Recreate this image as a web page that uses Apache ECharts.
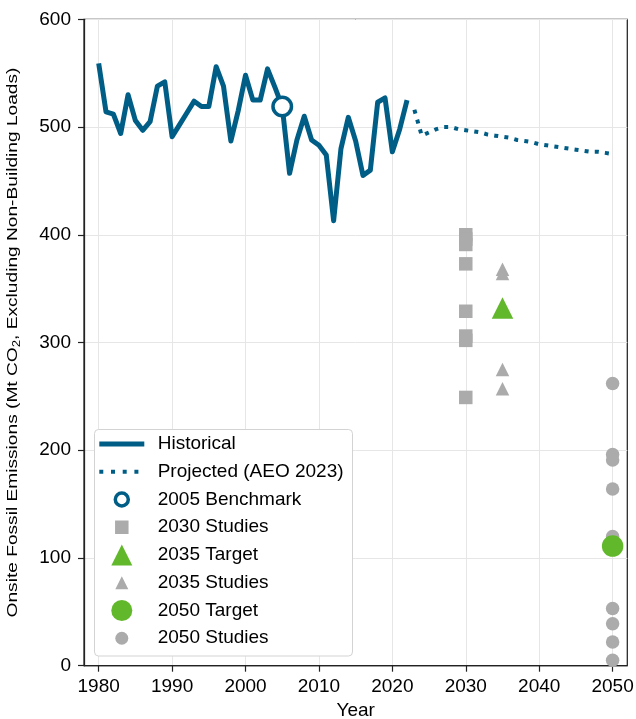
<!DOCTYPE html>
<html><head><meta charset="utf-8">
<script src="https://cdn.jsdelivr.net/npm/echarts@6/dist/echarts.min.js"></script>
<style>html,body{margin:0;padding:0;background:#fff}#c{width:636px;height:719px}</style>
</head><body><div id="c"></div>
<script>
// ---- data ----
const histYears = [1980,1981,1982,1983,1984,1985,1986,1987,1988,1989,1990,1991,1992,1993,1994,1995,1996,1997,1998,1999,2000,2001,2002,2003,2004,2005,2006,2007,2008,2009,2010,2011,2012,2013,2014,2015,2016,2017,2018,2019,2020,2021,2022];
const histValues = [559,514,512,494,530,506,497,505,538,542,491,502,513,524,519,519,556,538,487,515,548,525,525,554,537,519,457,488,510,488,483,474,413,480,509,487,455,460,523,527,477,498,525];
const projYears = [2023,2024,2025,2026,2027,2028,2029,2030,2031,2032,2033,2034,2035,2036,2037,2038,2039,2040,2041,2042,2043,2044,2045,2046,2047,2048,2049,2050];
const projValues = [516,492,495,498,500,500,498,497,496,495,493,492,491,490,488,487,486,484,483,482,481,480,479,478,477,477,476,475];
const benchmarkYear = 2005, benchmarkValue = 519;
const studies2030Year = 2030, studies2030 = [400,396,391,373,329,306,302,249];
const target2035Year = 2035, target2035 = 332;
const studies2035Year = 2035, studies2035 = [368,364,275,257];
const target2050Year = 2050, target2050 = 111;
const studies2050Year = 2050, studies2050 = [262,196,191,164,120,53,39,22,5];
const xTicks = [1980,1990,2000,2010,2020,2030,2040,2050];
const yTicks = [0,100,200,300,400,500,600];
const names = ['Historical','Projected (AEO 2023)','2005 Benchmark','2030 Studies','2035 Target','2035 Studies','2050 Target','2050 Studies'];
const yTitle = ['Onsite Fossil Emissions (Mt CO', '2', ', Excluding Non-Building Loads)'];
const xTitle = 'Year';

// ---- styles ----
const FONT = 'Liberation Sans, Arial, Helvetica, sans-serif';
const BLUE = '#005E86', GREEN = '#62B82B', GRAY = '#ABABAB';

const chart = echarts.init(document.getElementById('c'), null, {renderer:'canvas'});
const pairs = (xs, ys) => xs.map((x,i)=>[x, ys[i]]);
const col = (x, ys) => ys.map(v=>[x, v]);

// legend layout (style only)
const legendStyle = [
  {line:true, h:14, stroke:5, lineStyle:{width:5}},
  {line:true, h:14, stroke:4, lineStyle:{width:4, type:[4,7.7]}},
  {h:13, stroke:3.5, itemStyle:{borderWidth:3.5}},
  {h:13.5, stroke:0},
  {h:21, stroke:0},
  {h:13, stroke:0},
  {h:21, stroke:0},
  {h:13, stroke:0}
];
const HANDLE_L = 99.3, HANDLE_W = 45, TEXT_X = 157.7;
const legends = names.map((n,i)=>{
  const s = legendStyle[i];
  const center = 444 + i*27.75;
  let iconL, iw;
  if (s.line) { iconL = HANDLE_L; iw = HANDLE_W; }
  else { iw = s.h; iconL = HANDLE_L + HANDLE_W/2 - s.h/2; }
  const left = iconL - s.stroke/2;           // bounding rect includes half stroke
  const pad = TEXT_X - (iconL + iw + 5);
  const lg = {
    data:[n], orient:'vertical', left:left, top:center-11, padding:0,
    itemWidth:iw, itemHeight:s.h, selectedMode:false,
    textStyle:{fontSize:19, lineHeight:22, color:'#000', fontFamily:FONT, padding:[0,0,0,pad]}
  };
  if (s.lineStyle) lg.lineStyle = s.lineStyle;
  if (s.itemStyle) lg.itemStyle = s.itemStyle;
  if (s.line) lg.itemStyle = {opacity:0, color:'transparent', borderWidth:0};
  return lg;
});

const option = {
  animation:false,
  backgroundColor:'#fff',
  grid:{left:84, right:8.7, top:19.3, bottom:53.3, outerBoundsMode:'none', containLabel:false,
        show:true, borderColor:'#222', borderWidth:1.25, backgroundColor:'transparent'},
  xAxis:{
    type:'value', min:1978, max:2052,
    name:xTitle, nameLocation:'middle', nameGap:36,
    nameTextStyle:{fontSize:19, color:'#000', fontFamily:FONT},
    axisLine:{show:true, lineStyle:{color:'#222', width:1.25}},
    axisTick:{show:true, length:6, customValues:xTicks, lineStyle:{color:'#222', width:1.2}},
    axisLabel:{customValues:xTicks, fontSize:19, color:'#000', fontFamily:FONT, margin:12, formatter:v=>String(v)},
    splitLine:{show:true, lineStyle:{color:'#e6e6e6', width:1}}
  },
  yAxis:{
    type:'value', min:0, max:600, interval:100,
    axisLine:{show:true, lineStyle:{color:'#222', width:1.25}},
    axisTick:{show:true, length:6, lineStyle:{color:'#222', width:1.2}},
    axisLabel:{fontSize:19, color:'#000', fontFamily:FONT, margin:13},
    splitLine:{show:true, lineStyle:{color:'#e6e6e6', width:1}}
  },
  legend: legends,
  graphic:[
    {type:'rect', z:3, shape:{x:94.5, y:429.5, width:258, height:226.5, r:4},
     style:{fill:'#fff', stroke:'#d3d3d3', lineWidth:1}},
    {type:'text', z:5, x:13, y:342.5, rotation:Math.PI/2, scaleX:1.32, scaleY:1,
     style:{text:'{a|'+yTitle[0]+'}{s|'+yTitle[1]+'}{a|'+yTitle[2]+'}',
       align:'center', verticalAlign:'middle', fill:'#000',
       rich:{a:{fontSize:14.5, lineHeight:18, fontFamily:FONT, fill:'#000'},
             s:{fontSize:10, lineHeight:10, verticalAlign:'bottom', fontFamily:FONT, fill:'#000'}}}}
  ],
  series:[
    {name:names[0], type:'line', data:pairs(histYears, histValues), symbol:'none', z:2,
     lineStyle:{color:BLUE, width:5, join:'round'}, itemStyle:{color:BLUE}},
    {name:names[1], type:'line', data:pairs(projYears, projValues), symbol:'none', z:2,
     lineStyle:{color:BLUE, width:4, type:[4,6.2]}, itemStyle:{color:BLUE}},
    {name:names[2], type:'scatter', data:[[benchmarkYear, benchmarkValue]], symbol:'circle', symbolSize:18.5, z:4,
     itemStyle:{color:'#fff', borderColor:BLUE, borderWidth:3.5, opacity:1}},
    {name:names[3], type:'scatter', data:col(studies2030Year, studies2030), symbol:'rect', symbolSize:13.5, z:3,
     itemStyle:{color:GRAY, opacity:1}},
    {name:names[5], type:'scatter', data:col(studies2035Year, studies2035), symbol:'triangle', symbolSize:13.5, z:3,
     itemStyle:{color:GRAY, opacity:1}},
    {name:names[7], type:'scatter', data:col(studies2050Year, studies2050), symbol:'circle', symbolSize:13.5, z:3,
     itemStyle:{color:GRAY, opacity:1}},
    {name:names[4], type:'scatter', data:[[target2035Year, target2035]], symbol:'triangle', symbolSize:21.5, z:4,
     itemStyle:{color:GREEN, opacity:1}},
    {name:names[6], type:'scatter', data:[[target2050Year, target2050]], symbol:'circle', symbolSize:21.5, z:4,
     itemStyle:{color:GREEN, opacity:1}}
  ]
};
chart.setOption(option);
</script></body></html>
